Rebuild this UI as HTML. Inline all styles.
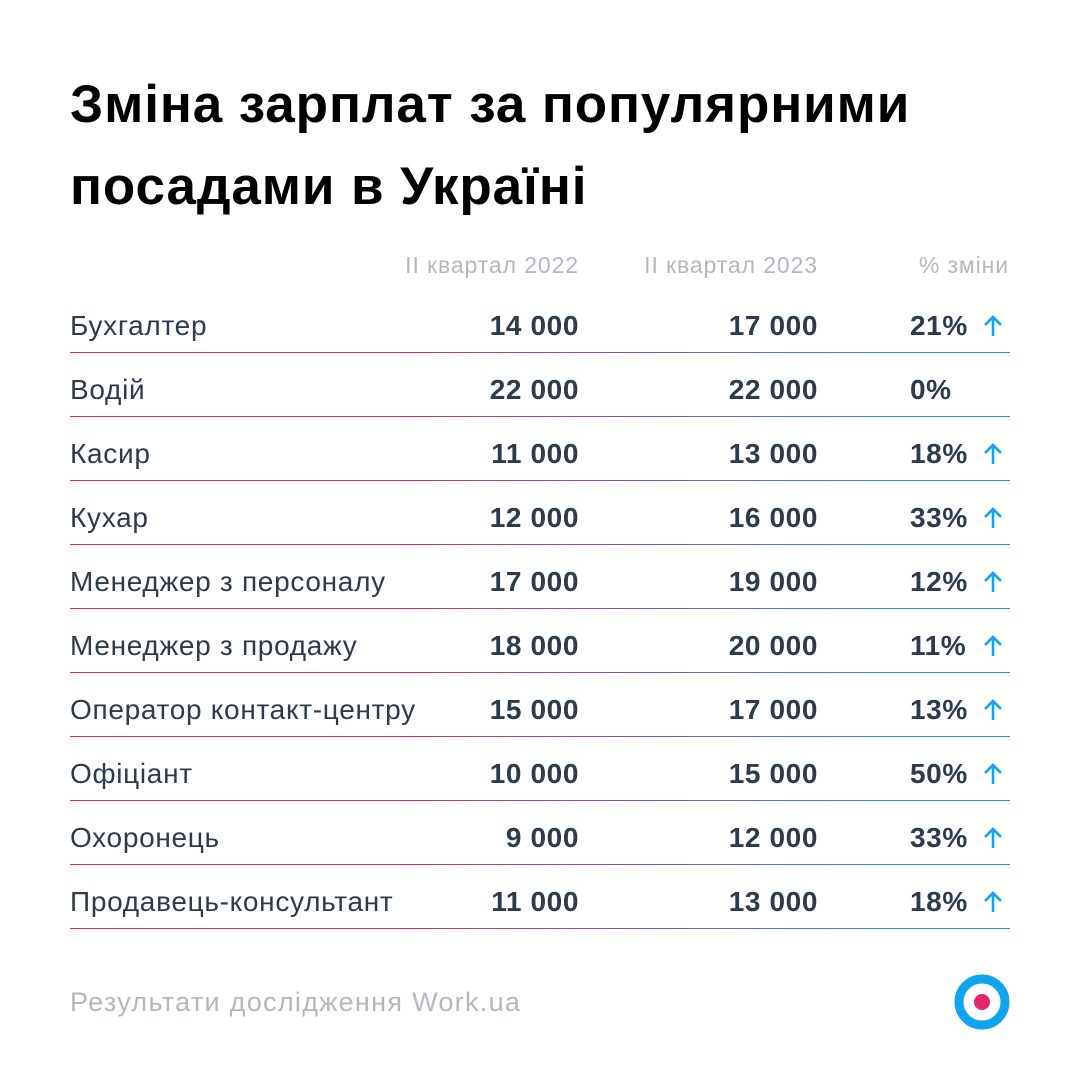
<!DOCTYPE html>
<html><head><meta charset="utf-8"><style>
body{margin:0;width:1080px;height:1080px;background:#fff;font-family:"Liberation Sans",sans-serif;position:relative;overflow:hidden}
h1{position:absolute;left:70px;top:64px;margin:0;font-size:53px;line-height:82px;font-weight:bold;color:#000;letter-spacing:0.9px}
.hd{position:absolute;top:252px;font-size:23px;color:#b3b8c0;letter-spacing:0.9px}
.row{position:absolute;left:70px;width:940px;height:64px}
.row span{position:absolute;top:21px;font-size:28px;color:#2d3b4e;line-height:32px;letter-spacing:0.7px}
.row span.n{font-weight:bold;text-align:right;font-size:28px;letter-spacing:0.6px}
.ln{position:absolute;left:0;bottom:0;width:940px;height:1.5px;background:linear-gradient(90deg,#e8246d 0%,#e8246d 35%,#7b55c9 65%,#1a98e6 85%,#1a98e6 100%)}
.ar{position:absolute;left:912px;top:25px}
.ft{position:absolute;left:70px;top:987px;font-size:27px;color:#b3b8c0;letter-spacing:1.3px}
</style></head><body>
<h1>Зміна зарплат за популярними<br>посадами в Україні</h1>
<div class="hd" style="right:501px">ІІ квартал 2022</div>
<div class="hd" style="right:262px">ІІ квартал 2023</div>
<div class="hd" style="right:71px">% зміни</div>
<div id="rows"></div>
<div class="ft">Результати дослідження Work.ua</div>
<svg style="position:absolute;left:954px;top:974px" width="56" height="56"><circle cx="28" cy="28" r="23" fill="none" stroke="#0ea5ec" stroke-width="9"/><circle cx="28" cy="28" r="8" fill="#e4256c"/></svg>
<script>
var d=[["Бухгалтер","14 000","17 000","21%",1],["Водій","22 000","22 000","0%",0],["Касир","11 000","13 000","18%",1],["Кухар","12 000","16 000","33%",1],["Менеджер з персоналу","17 000","19 000","12%",1],["Менеджер з продажу","18 000","20 000","11%",1],["Оператор контакт-центру","15 000","17 000","13%",1],["Офіціант","10 000","15 000","50%",1],["Охоронець","9 000","12 000","33%",1],["Продавець-консультант","11 000","13 000","18%",1]];
var h="";d.forEach(function(r,i){h+='<div class="row" style="top:'+(289+i*64)+'px"><span style="left:0">'+r[0]+'</span><span class="n" style="right:431px">'+r[1]+'</span><span class="n" style="right:192px">'+r[2]+'</span><span class="n" style="left:840px">'+r[3]+'</span>'+(r[4]?'<svg class="ar" width="22" height="24"><path d="M11 22V3M3 11L11 3L19 11" fill="none" stroke="#0ea5ec" stroke-width="2.6"/></svg>':'')+'<div class="ln"></div></div>'});
document.getElementById("rows").innerHTML=h;
</script>
</body></html>
